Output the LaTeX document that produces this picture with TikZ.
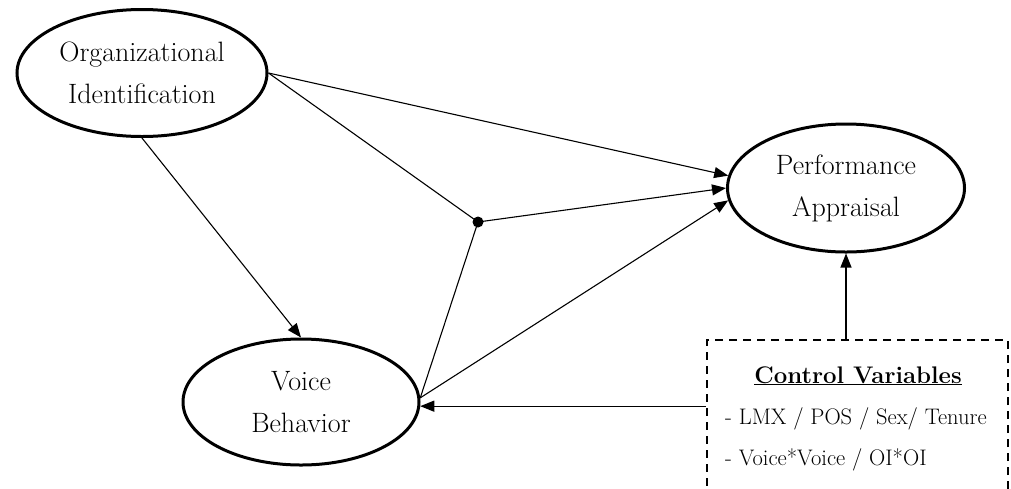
\documentclass[tikz,border=0pt]{standalone}
\usetikzlibrary{shapes.geometric,arrows.meta}
\begin{document}
\begin{tikzpicture}[x=1pt,y=-1pt,
  construct/.style={ellipse,draw,line width=3pt,inner sep=0pt,align=center,
    font=\fontsize{28}{42}\selectfont},
  link/.style={line width=1.1pt},
  arr/.style={link,-{Triangle[length=14pt,width=11pt]}},
  boxtext/.style={anchor=base west,inner sep=0pt,font=\fontsize{22.5}{25}\selectfont}]
\clip (0,0) rectangle (1011,488);
\fill[white] (0,0) rectangle (1011,488);
\node[construct,minimum width=250pt,minimum height=127pt] (OI) at (142,73) {Organizational\\Identification};
\node[construct,minimum width=237pt,minimum height=128pt] (PA) at (846,188) {Performance\\Appraisal};
\node[construct,minimum width=236pt,minimum height=126pt] (VB) at (301,402) {Voice\\Behavior};
\node[circle,fill,inner sep=0pt,minimum size=11pt] (J) at (478,222) {};
\node[draw,dashed,dash pattern=on 8pt off 6pt,line width=2.5pt,minimum width=301pt,minimum height=170pt] (CV) at (857.5,425) {};
\node[anchor=base,inner sep=0pt,font=\fontsize{24}{25}\selectfont\bfseries] (CVt) at (858,383) {\underline{Control Variables}};
\node[boxtext] (CVa) at (725,424) {- LMX / POS / Sex/ Tenure};
\node[boxtext] (CVb) at (725,465) {- Voice*Voice / OI*OI};
% connectors
\draw[arr] (OI.east) -- (PA.174);
\draw[link] (OI.east) -- (J.center);
\draw[arr] (J.center) -- (PA.180);
\draw[link] (J.center) -- (VB.2);
\draw[arr] (VB.2) -- (PA.186);
\draw[arr] (OI.south) -- (VB.north);
\draw[arr] (CV.north -| PA.south) -- (PA.south);
\draw[arr] (VB.-2 -| CV.west) -- (VB.-2);
\end{tikzpicture}
\end{document}
